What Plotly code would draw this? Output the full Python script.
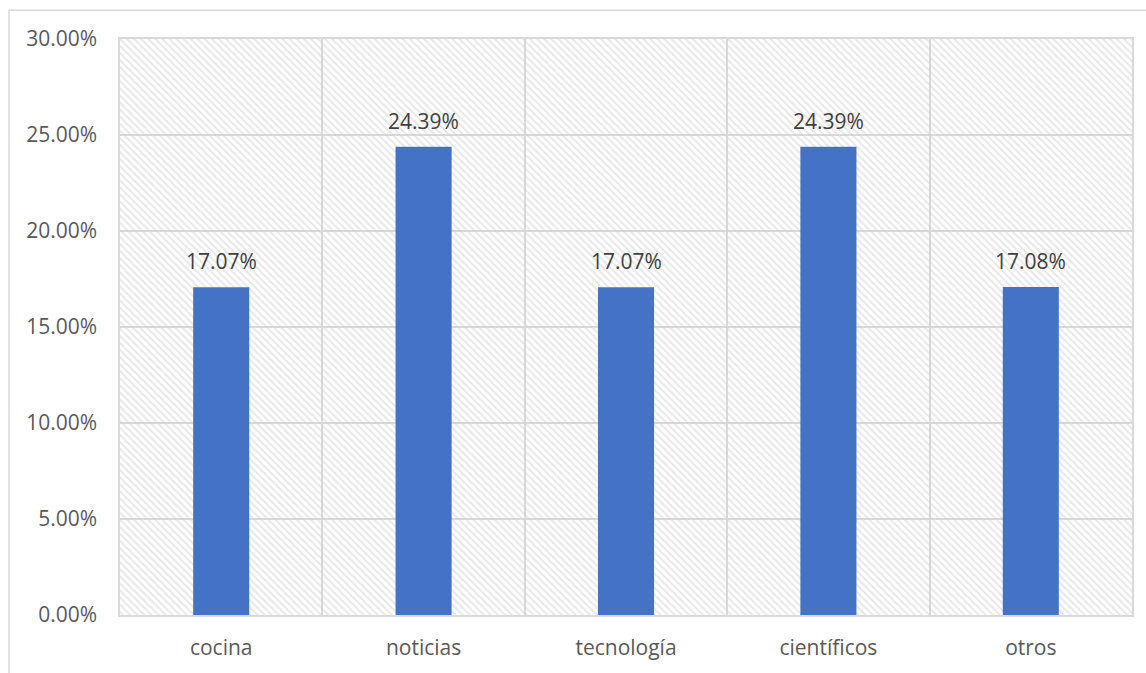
import plotly.graph_objects as go

categories = ["cocina", "noticias", "tecnología", "científicos", "otros"]
values = [0.1707, 0.2439, 0.1707, 0.2439, 0.1708]
y_ticks = [0, 0.05, 0.10, 0.15, 0.20, 0.25, 0.30]
y_max = 0.30

BAR_COLOR = "#4472C4"
GRID = "#D9D9D9"
FONT = "Open Sans"

fig = go.Figure()

# hatched plot background (spans every category)
fig.add_trace(go.Bar(
    x=[categories[len(categories) // 2]], y=[y_max], width=[len(categories)],
    marker=dict(color="rgba(0,0,0,0)", line=dict(width=0),
                pattern=dict(shape="\\", fgcolor="#D0D0D0", bgcolor="rgba(0,0,0,0)",
                             size=5, solidity=0.4)),
    hoverinfo="skip", showlegend=False,
))

fig.add_trace(go.Bar(
    x=categories, y=values, width=0.277,
    marker=dict(color=BAR_COLOR, line=dict(width=0)),
    showlegend=False,
))

for c, v in zip(categories, values):
    fig.add_annotation(x=c, y=v, text=f"{v:.2%}", showarrow=False,
                       yanchor="bottom", yshift=10,
                       font=dict(family=FONT, size=21, color="#404040"))

W, H = 1146, 673
ml, mr, mt, mb = 120, 14, 39, 53
pw, ph = W - ml - mr, H - mt - mb
# outer chart border
fig.add_shape(type="rect", xref="paper", yref="paper",
              x0=(9 - ml) / pw, x1=(W + 10 - ml) / pw,
              y0=(H - mb - (H + 10)) / ph, y1=(H - mb - 10) / ph,
              line=dict(color=GRID, width=1.5), fillcolor="rgba(0,0,0,0)", layer="below")

fig.update_layout(
    width=W, height=H,
    margin=dict(l=ml, r=mr, t=mt, b=mb),
    barmode="overlay",
    plot_bgcolor="white", paper_bgcolor="white",
    font=dict(family=FONT, size=21, color="#595959"),
    xaxis=dict(type="category", categoryorder="array", categoryarray=categories,
               tickson="boundaries", showgrid=True, gridcolor=GRID,
               gridwidth=1.5, showline=True, linecolor=GRID, linewidth=1.5, mirror=True,
               ticks="", ticklabelstandoff=13, range=[-0.5, len(categories) - 0.5],
               zeroline=False),
    yaxis=dict(range=[0, y_max], tickvals=y_ticks, tickformat=".2%", showgrid=True,
               gridcolor=GRID, gridwidth=1.5, showline=True, linecolor=GRID,
               linewidth=1.5, mirror=True, ticks="", ticklabelstandoff=17,
               zeroline=False),
)

fig.write_html("out.html", config={"displayModeBar": False},
               post_script="document.body.style.margin='0';")
